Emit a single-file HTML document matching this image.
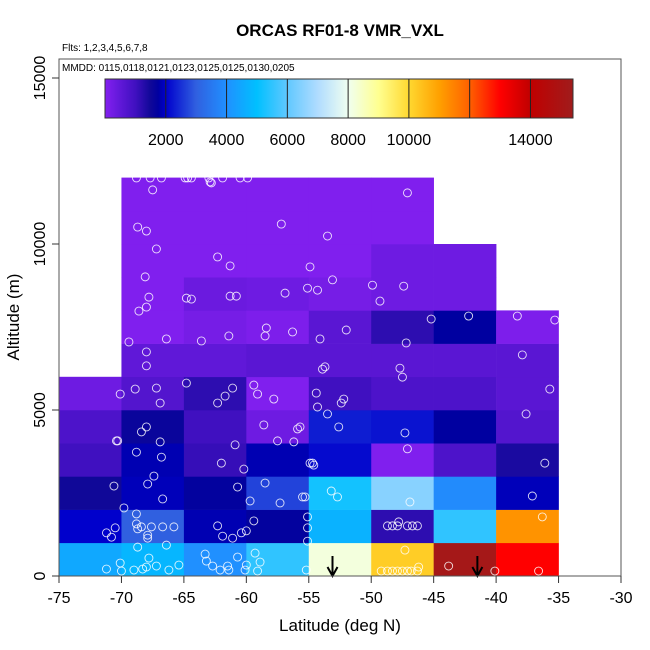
<!DOCTYPE html>
<html><head><meta charset="utf-8"><style>
html,body{margin:0;padding:0;background:#fff;}
svg{display:block;font-family:"Liberation Sans",Arial,sans-serif;}
</style></head><body>
<svg id="chart" width="650" height="650" viewBox="0 0 650 650">
<text x="340" y="36" text-anchor="middle" font-size="17" font-weight="bold">ORCAS RF01-8 VMR_VXL</text>
<text x="62" y="51" font-size="10">Flts: 1,2,3,4,5,6,7,8</text>
<g id="cells"></g>
<g id="points"></g>
<g id="arrows"></g>
<rect x="59" y="59" width="562" height="517" fill="none" stroke="#555" stroke-width="1"/>
<text x="62" y="71" font-size="10">MMDD: 0115,0118,0121,0123,0125,0125,0130,0205</text>
<g id="cbar"></g>
<g id="xaxis"></g>
<g id="yaxis"></g>
<text x="340" y="631" text-anchor="middle" font-size="17">Latitude (deg N)</text>
<text transform="translate(19,317) rotate(-90)" text-anchor="middle" font-size="17">Altitude (m)</text>
</svg>
<script>
const latBins = [-75,-70,-65,-60,-55,-50,-45,-40];
// values per column, rows from 0-1000 m upward
const col0 = [4500,2000,1500,1000,800,300];
const col1 = [4800,3000,1900,1850,1600,700,500,50,50,50,50,50];
const col2 = [4000,1850,1700,1100,1000,1200,500,200,350,50,50,50];
const col3 = [5500,1700,2700,1850,300,50,600,100,300,50,50,50];
const col4 = [8200,4700,5200,2100,2300,1000,600,600,200,50,50,50];
const col5 = [10200,1200,6500,50,2200,800,600,1200,300,300,50,50];
const col6 = [15200,5500,3900,800,1750,800,600,1750,300,300];
const col7 = [13000,11200,1900,1400,700,600,600,100];
const columns = [col0,col1,col2,col3,col4,col5,col6,col7];
const ptLat = [-68.8,-67.7,-66.8,-64.9,-64.7,-64.4,-63.0,-61.9,-60.5,-59.9,-62.9,-62.8,-67.5,-47.1,-68.7,-68.0,-67.2,-57.2,-53.5,-62.3,-61.3,-68.1,-54.9,-53.1,-67.8,-68.0,-68.6,-64.8,-61.3,-60.8,-64.4,-55.1,-56.9,-54.3,-49.9,-47.4,-49.3,-58.4,-58.5,-56.3,-63.6,-61.4,-69.4,-66.4,-68.0,-68.0,-45.2,-42.2,-38.3,-35.3,-52.0,-54.1,-47.2,-37.9,-53.9,-53.7,-47.7,-47.5,-35.7,-70.1,-68.9,-67.2,-66.9,-64.8,-62.3,-61.7,-61.1,-59.4,-59.1,-57.8,-54.4,-54.3,-52.4,-52.2,-53.5,-68.4,-68.0,-70.4,-70.3,-66.9,-68.8,-66.8,-60.9,-62.0,-60.2,-58.6,-57.5,-56.2,-55.9,-55.7,-54.9,-54.7,-54.6,-52.6,-47.3,-47.1,-37.6,-36.1,-70.6,-67.4,-67.9,-66.7,-60.7,-58.5,-59.7,-57.3,-55.5,-55.3,-53.2,-52.7,-46.9,-37.1,-69.8,-68.8,-71.2,-70.5,-70.8,-68.8,-68.7,-68.4,-67.6,-67.9,-67.9,-66.7,-65.8,-62.3,-61.9,-61.1,-60.4,-60.0,-59.4,-55.1,-55.1,-55.1,-36.3,-48.7,-48.3,-47.8,-47.9,-47.1,-46.7,-46.3,-71.2,-70.1,-70.0,-68.7,-67.8,-66.4,-69.0,-68.3,-68.0,-67.2,-66.2,-65.4,-63.3,-63.2,-62.7,-62.1,-61.5,-61.4,-60.7,-60.0,-60.1,-59.3,-58.9,-59.1,-55.2,-47.3,-43.8,-40.1,-36.6,-46.2,-49.2,-48.7,-48.3,-47.9,-47.5,-47.1,-46.8,-46.3];
const ptAlt = [11990,11990,11990,11990,11990,11990,11990,11990,11990,11990,11870,11840,11630,11540,10510,10390,9850,10600,10240,9610,9340,9010,9310,8920,8400,8100,7980,8370,8430,8430,8340,8670,8520,8610,8760,8730,8280,7470,7230,7350,7080,7230,7050,7140,6750,6330,7740,7830,7830,7710,7410,7140,7020,6660,6230,6300,6260,5990,5630,5480,5630,5660,5210,5810,5210,5420,5660,5750,5480,5330,5510,5090,5210,5330,4880,4340,4490,4070,4070,4040,3730,3580,3950,3400,3220,4550,4070,4040,4430,4490,3400,3400,3340,4490,4310,3830,4880,3400,2710,3010,2770,2320,2680,2800,2260,2200,2380,2380,2560,2380,2230,2410,2050,1870,1300,1450,1170,1570,1420,1480,1480,1230,1140,1480,1480,1510,1200,1140,1300,1360,1660,1780,1450,1050,1780,1510,1510,1630,1510,1510,1510,1510,210,390,150,870,540,930,180,210,270,300,180,330,660,450,300,180,300,180,570,330,180,690,420,150,180,780,300,150,150,270,150,150,150,150,150,150,150,150];
const arrowLat = [-53.1,-41.5];
const xTicks = [-75,-70,-65,-60,-55,-50,-45,-40,-35,-30];
const yTicks = [0,5000,10000,15000];
const cbTicks = [2000,4000,6000,8000,10000,12000,14000];
const cbLabels = ["2000","4000","6000","8000","10000","","14000"];

const NS="http://www.w3.org/2000/svg";
const X = v => 59 + (v + 75) * (562/45);
const Y = v => 576 - v * (166/5000);
const CB = v => 105 + v * (468/15400);
const stops = [[0,[132,32,240]],[500,[96,24,216]],[1000,[64,16,192]],[1500,[16,8,152]],[1750,[0,0,160]],[2000,[0,0,204]],[3000,[48,96,224]],[4000,[32,144,255]],[5000,[0,192,255]],[6000,[96,200,255]],[7000,[176,220,255]],[8000,[240,255,240]],[9000,[255,255,144]],[10000,[255,216,48]],[11000,[255,160,0]],[12000,[255,96,0]],[13000,[255,0,0]],[14000,[192,0,0]],[15400,[160,28,28]]];
function cmap(v){
  if(v<=stops[0][0]) return rgb(stops[0][1]);
  for(let i=1;i<stops.length;i++){
    if(v<=stops[i][0]){
      const a=stops[i-1],b=stops[i],t=(v-a[0])/(b[0]-a[0]);
      return rgb(a[1].map((c,k)=>Math.round(c+(b[1][k]-c)*t)));
    }
  }
  return rgb(stops[stops.length-1][1]);
}
function rgb(c){return "rgb("+c.join(",")+")";}
function mk(tag,attrs,parent){const e=document.createElementNS(NS,tag);for(const k in attrs)e.setAttribute(k,attrs[k]);parent.appendChild(e);return e;}

const cells=document.getElementById('cells');
columns.forEach((col,ci)=>{
  col.forEach((v,ri)=>{
    const x0=X(latBins[ci]), x1=X(latBins[ci]+5), y0=Y((ri+1)*1000), y1=Y(ri*1000);
    const r=mk('rect',{x:x0,y:y0,width:x1-x0+0.3,height:y1-y0+0.3,fill:cmap(v)},cells);
    
    
  });
});
const pts=document.getElementById('points');
ptLat.forEach((la,i)=>{
  const c=mk('circle',{cx:X(la),cy:Y(ptAlt[i]),r:4,fill:"none",stroke:"#fff","stroke-width":0.9,"stroke-opacity":0.85},pts);
  
  
});
const arr=document.getElementById('arrows');
arrowLat.forEach(la=>{
  const x=X(la);
  const g=mk('g',{},arr);
  
  
  mk('line',{x1:x,y1:556,x2:x,y2:575,stroke:"#000","stroke-width":2},g);
  mk('path',{d:`M${x-5},567 L${x},576 L${x+5},567`,fill:"none",stroke:"#000","stroke-width":2},g);
});
// colorbar
const cb=document.getElementById('cbar');
const defs=mk('defs',{},cb);
const lg=mk('linearGradient',{id:"cg",x1:"0",x2:"1",y1:"0",y2:"0"},defs);
stops.forEach(s=>mk('stop',{offset:(s[0]/15400),"stop-color":rgb(s[1])},lg));
const cbr=mk('rect',{x:105,y:79,width:468,height:39,fill:"url(#cg)",stroke:"#333","stroke-width":1},cb);


cbTicks.forEach((t,i)=>{
  const x=CB(t);
  mk('line',{x1:x,y1:79,x2:x,y2:118,stroke:"#222","stroke-width":1},cb);
  if(cbLabels[i]){
    const tx=mk('text',{x:x,y:145,"text-anchor":"middle","font-size":16},cb);
    tx.textContent=cbLabels[i];
    
    
  }
});
// axes
const xa=document.getElementById('xaxis');
xTicks.forEach(t=>{
  const x=X(t);
  mk('line',{x1:x,y1:576,x2:x,y2:583,stroke:"#333"},xa);
  const tx=mk('text',{x:x,y:603,"text-anchor":"middle","font-size":16},xa);
  tx.textContent=t;
  
  
});
const ya=document.getElementById('yaxis');
yTicks.forEach(t=>{
  const y=Y(t);
  mk('line',{x1:52,y1:y,x2:59,y2:y,stroke:"#333"},ya);
  const tx=mk('text',{transform:`translate(45,${y}) rotate(-90)`,"text-anchor":"middle","font-size":16},ya);
  tx.textContent=t;
  
  
});
</script>
</body></html>
